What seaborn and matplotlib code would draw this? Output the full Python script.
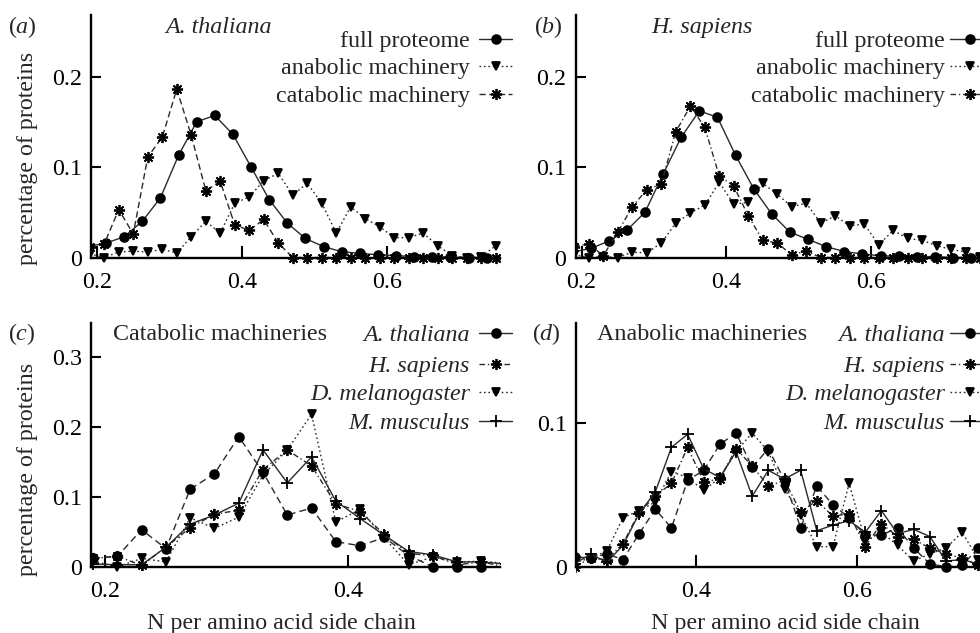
import matplotlib
matplotlib.use("Agg")
import matplotlib.pyplot as plt
import seaborn as sns
import pandas as pd
from matplotlib.patches import Rectangle
from matplotlib.lines import Line2D

# ---------------- data ----------------
full_x = [0.1875, 0.2125, 0.2375, 0.2625, 0.2875, 0.3125, 0.3375, 0.3625,
          0.3875, 0.4125, 0.4375, 0.4625, 0.4875, 0.5125, 0.5375, 0.5625,
          0.5875, 0.6125, 0.6375, 0.6625, 0.6875, 0.7125, 0.7375, 0.7625]
bin_x = [0.19, 0.21, 0.23, 0.25, 0.27, 0.29, 0.31, 0.33, 0.35, 0.37,
         0.39, 0.41, 0.43, 0.45, 0.47, 0.49, 0.51, 0.53, 0.55, 0.57,
         0.59, 0.61, 0.63, 0.65, 0.67, 0.69, 0.71, 0.73, 0.75]

at_full = [0.012, 0.016, 0.023, 0.040, 0.066, 0.113, 0.150, 0.157, 0.136, 0.100,
           0.064, 0.038, 0.021, 0.012, 0.0064, 0.0046, 0.003, 0.002, 0.001, 0.001,
           0.0005, 0.0, 0.0, 0.0]
hs_full = [0.006, 0.010, 0.018, 0.030, 0.050, 0.092, 0.133, 0.162, 0.155, 0.113,
           0.076, 0.048, 0.028, 0.020, 0.012, 0.0066, 0.0038, 0.002, 0.0012, 0.001,
           0.001, 0.0, 0.0, 0.0]

at_cat = [0.012, 0.015, 0.053, 0.026, 0.111, 0.133, 0.186, 0.135, 0.074, 0.084,
          0.036, 0.030, 0.042, 0.016, 0.0, 0.0, 0.0, 0.0, 0.0, 0.0,
          0.0, 0.0, 0.0, 0.0, 0.0, 0.0, 0.0, 0.0, 0.0]
hs_cat = [0.012, 0.015, 0.002, 0.028, 0.056, 0.075, 0.081, 0.139, 0.167, 0.144,
          0.090, 0.079, 0.046, 0.019, 0.016, 0.003, 0.007, 0.0, 0.0, 0.0,
          0.0, 0.0, 0.0, 0.0, 0.0, 0.0, 0.0, 0.0, 0.0]
dm_cat = [0.008, 0.0, 0.012, 0.007, 0.070, 0.055, 0.071, 0.131, 0.167, 0.218,
          0.064, 0.082, 0.041, 0.003, 0.014, 0.007, 0.008, 0.005]
mm_cat = [0.004, 0.003, 0.003, 0.028, 0.061, 0.074, 0.091, 0.167, 0.120, 0.157,
          0.094, 0.069, 0.045, 0.022, 0.017, 0.007, 0.007, 0.004]

at_ana = [0.004, 0.0, 0.006, 0.007, 0.006, 0.009, 0.005, 0.023, 0.040, 0.027,
          0.060, 0.067, 0.085, 0.093, 0.069, 0.082, 0.060, 0.027, 0.056, 0.043,
          0.034, 0.022, 0.022, 0.027, 0.013, 0.002, 0.0, 0.001, 0.013]
hs_ana = [0.003, 0.0, 0.001, 0.0, 0.006, 0.005, 0.016, 0.038, 0.049, 0.058,
          0.083, 0.059, 0.061, 0.082, 0.070, 0.056, 0.060, 0.038, 0.046, 0.035,
          0.037, 0.014, 0.030, 0.021, 0.019, 0.013, 0.009, 0.006, 0.001]
dm_ana = [0.003, 0.004, 0.004, 0.003, 0.006, 0.011, 0.034, 0.039, 0.045, 0.066,
          0.062, 0.053, 0.062, 0.080, 0.093, 0.080, 0.054, 0.036, 0.014, 0.014,
          0.058, 0.018, 0.024, 0.015, 0.004, 0.009, 0.013, 0.024, 0.005]
mm_ana = [0.003, 0.002, 0.006, 0.002, 0.009, 0.003, 0.015, 0.037, 0.052, 0.083,
          0.092, 0.068, 0.062, 0.080, 0.049, 0.067, 0.061, 0.067, 0.025, 0.029,
          0.032, 0.024, 0.039, 0.023, 0.026, 0.021, 0.004, 0.005, 0.002]

# ---------------- style ----------------
sns.set_style("ticks")
plt.rcParams["font.family"] = ["Liberation Serif", "DejaVu Serif"]
plt.rcParams["mathtext.fontset"] = "custom"
plt.rcParams["mathtext.rm"] = "Liberation Serif"
plt.rcParams["mathtext.it"] = "Liberation Serif:italic"

FS = 17.3
W, H = 980, 633
LC = "#2a2a2a"

STY = {
    "circle_solid": dict(marker="o", ms=6.3, ls="-"),
    "circle_dash": dict(marker="o", ms=6.3, ls=(0, (5, 3))),
    "tri_dot": dict(marker="v", ms=6.3, ls=(0, (1.2, 2))),
    "star_dash": dict(marker=(8, 2, 0), ms=8, ls=(0, (4.5, 2.5))),
    "star_dashdot": dict(marker=(8, 2, 0), ms=8, ls=(0, (4, 2, 1, 2))),
    "plus_solid": dict(marker="+", ms=9, ls="-"),
}

fig = plt.figure(figsize=(W / 100, H / 100), dpi=100)
fig.patch.set_facecolor("white")


def add_ax(x0, ytop, x1, ybot):
    return fig.add_axes([x0 / W, 1 - ybot / H, (x1 - x0) / W, (ybot - ytop) / H])


def draw(ax, x, y, sty):
    s = STY[sty]
    df = pd.DataFrame({"x": x, "y": y})
    sns.lineplot(data=df, x="x", y="y", ax=ax, color=LC, lw=1.0,
                 marker=s["marker"], markersize=s["ms"], linestyle=s["ls"],
                 markerfacecolor="black", markeredgecolor="black",
                 markeredgewidth=1.3, errorbar=None, legend=False)


def finish(ax, xlim, ylim, xt, yt, ytl):
    ax.set_xlim(*xlim)
    ax.set_ylim(*ylim)
    ax.set_xticks(xt)
    ax.set_xticklabels([f"{v:.1f}" for v in xt])
    ax.set_yticks(yt)
    ax.set_yticklabels(ytl)
    ax.set_xlabel("")
    ax.set_ylabel("")
    for side in ("top", "right"):
        ax.spines[side].set_visible(False)
    for side in ("left", "bottom"):
        ax.spines[side].set_linewidth(1.7)
        ax.spines[side].set_color("black")
    ax.tick_params(axis="y", direction="in", length=7.5, width=1.5,
                   labelsize=FS, pad=6.5, colors="black")
    ax.tick_params(axis="x", direction="in", length=8.5, width=1.5,
                   labelsize=FS, pad=10.5, colors="black")
    ax.set_facecolor("none")
    clip = Rectangle((0, -0.08), 1, 1.16, transform=ax.transAxes)
    for ln in ax.lines:
        ln.set_clip_path(clip)


def legend(entries, x_text, x0, x1, baselines, italic):
    for (lab, sty), b in zip(entries, baselines):
        fig.text(x_text / W, 1 - b / H, lab, ha="right", va="baseline",
                 fontsize=FS, style="italic" if italic else "normal")
        s = STY[sty]
        yl = 1 - (b - 8) / H
        xm = (x0 + x1) / 2
        ln = Line2D([x0 / W, xm / W, x1 / W], [yl, yl, yl], transform=fig.transFigure,
                    color=LC, lw=1.0, ls=s["ls"], marker=s["marker"], ms=s["ms"],
                    mfc="black", mec="black", mew=1.3, markevery=[1])
        fig.add_artist(ln)


# ---------------- panel a ----------------
axa = add_ax(91, 15, 500, 257.5)
draw(axa, full_x, at_full, "circle_solid")
draw(axa, bin_x, at_ana, "tri_dot")
draw(axa, bin_x, at_cat, "star_dash")
finish(axa, (0.1917, 0.7559), (0, 0.268), [0.2, 0.4, 0.6], [0, 0.1, 0.2], ["0", "0.1", "0.2"])

# ---------------- panel b ----------------
axb = add_ax(575.5, 15, 980, 257.5)
draw(axb, full_x, hs_full, "circle_solid")
draw(axb, bin_x, hs_ana, "tri_dot")
draw(axb, bin_x, hs_cat, "star_dashdot")
finish(axb, (0.1917, 0.7497), (0, 0.268), [0.2, 0.4, 0.6], [0, 0.1, 0.2], ["0", "0.1", "0.2"])

# ---------------- panel c ----------------
axc = add_ax(90.7, 323.3, 500, 566.8)
draw(axc, bin_x, at_cat, "circle_dash")
draw(axc, bin_x, hs_cat, "star_dashdot")
draw(axc, bin_x[:len(dm_cat)], dm_cat, "tri_dot")
draw(axc, bin_x[:len(mm_cat)], mm_cat, "plus_solid")
finish(axc, (0.188, 0.5253), (0, 0.348), [0.2, 0.4], [0, 0.1, 0.2, 0.3],
       ["0", "0.1", "0.2", "0.3"])

# ---------------- panel d ----------------
axd = add_ax(576, 323.3, 980, 566.8)
draw(axd, bin_x, at_ana, "circle_dash")
draw(axd, bin_x, hs_ana, "star_dashdot")
draw(axd, bin_x, dm_ana, "tri_dot")
draw(axd, bin_x, mm_ana, "plus_solid")
finish(axd, (0.2518, 0.7521), (0, 0.1691), [0.4, 0.6], [0, 0.1], ["0", "0.1"])

# ---------------- texts ----------------
fig.text(22 / W, 1 - 33 / H, r"($\it{a}$)", ha="center", va="baseline", fontsize=FS)
fig.text(548 / W, 1 - 33 / H, r"($\it{b}$)", ha="center", va="baseline", fontsize=FS)
fig.text(22 / W, 1 - 340.5 / H, r"($\it{c}$)", ha="center", va="baseline", fontsize=FS)
fig.text(546 / W, 1 - 340.5 / H, r"($\it{d}$)", ha="center", va="baseline", fontsize=FS)

fig.text(219 / W, 1 - 33 / H, "A. thaliana", ha="center", va="baseline",
         fontsize=FS, style="italic")
fig.text(702 / W, 1 - 33 / H, "H. sapiens", ha="center", va="baseline",
         fontsize=FS, style="italic")
fig.text(220 / W, 1 - 340.5 / H, "Catabolic machineries", ha="center", va="baseline",
         fontsize=FS)
fig.text(702 / W, 1 - 340.5 / H, "Anabolic machineries", ha="center", va="baseline",
         fontsize=FS)

for yc in (158.5, 469):
    fig.text(27 / W, 1 - yc / H, "percentage of proteins", rotation=90,
             ha="center", va="center", fontsize=FS)
for xc in (281, 785):
    fig.text(xc / W, 1 - 629 / H, "N per amino acid side chain", ha="center",
             va="baseline", fontsize=FS)

ab_entries_a = [("full proteome", "circle_solid"), ("anabolic machinery", "tri_dot"),
                ("catabolic machinery", "star_dash")]
ab_entries_b = [("full proteome", "circle_solid"), ("anabolic machinery", "tri_dot"),
                ("catabolic machinery", "star_dashdot")]
legend(ab_entries_a, 470, 479, 512, [46.7, 74, 101.7], False)
legend(ab_entries_b, 945, 950, 990, [46.7, 74, 101.7], False)

sp_entries = [("A. thaliana", "circle_solid"), ("H. sapiens", "star_dashdot"),
              ("D. melanogaster", "tri_dot"), ("M. musculus", "plus_solid")]
legend(sp_entries, 470, 479, 512, [340.7, 371.7, 400, 429.3], True)
legend(sp_entries, 945, 950, 990, [340.7, 371.7, 400, 429.3], True)

fig.savefig("out.png", dpi=100, facecolor="white")
